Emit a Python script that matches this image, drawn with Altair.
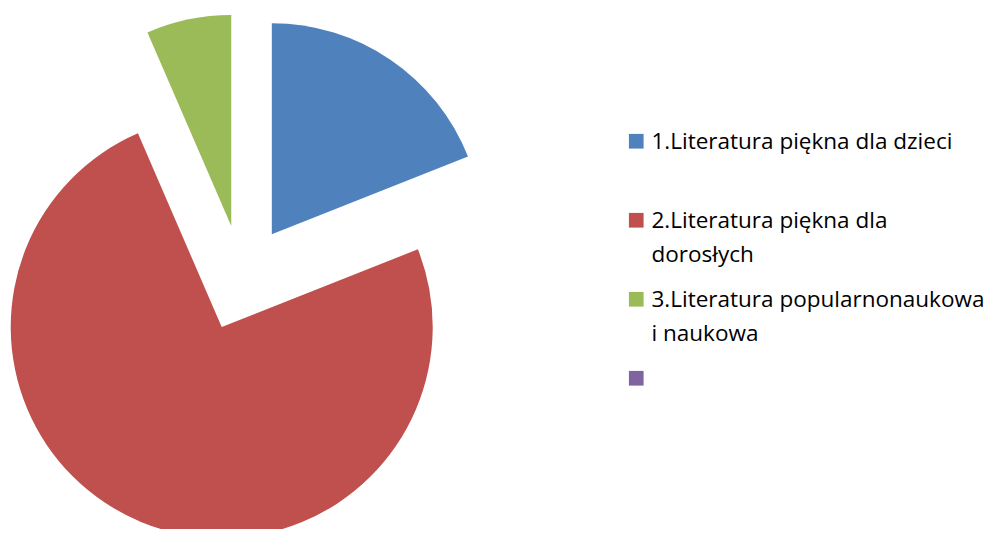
import altair as alt
import pandas as pd

categories = [
    "1.Literatura piękna dla dzieci",
    "2.Literatura piękna dla\ndorosłych",
    "3.Literatura popularnonaukowa\ni naukowa",
    " ",
]
values = [19.0, 74.5, 6.5, 0.0]
colors = ["#4F81BD", "#C0504D", "#9BBB59", "#8064A2"]

df = pd.DataFrame({"cat": categories, "value": values})

CX, CY, EXPLODE, R = 234, 270, 53, 211

base = alt.Chart(df).transform_joinaggregate(
    total="sum(value)"
).transform_window(
    cum="sum(value)", frame=[None, 0]
).transform_calculate(
    t1="2*PI*datum.cum/datum.total",
    t0="2*PI*(datum.cum-datum.value)/datum.total",
).transform_calculate(
    mid="(datum.t0+datum.t1)/2"
).transform_calculate(
    cx=f"{CX}+{EXPLODE}*sin(datum.mid)",
    cy=f"{CY}-{EXPLODE}*cos(datum.mid)",
)

chart = base.mark_arc(outerRadius=R, innerRadius=0).encode(
    theta=alt.Theta("t0:Q", scale=None),
    theta2="t1:Q",
    x=alt.X("cx:Q", scale=None),
    y=alt.Y("cy:Q", scale=None),
    color=alt.Color(
        "cat:N",
        scale=alt.Scale(domain=categories, range=colors),
        legend=alt.Legend(
            title=None,
            orient="none",
            legendX=617,
            legendY=122,
            symbolType="square",
            symbolSize=216,
            symbolStrokeWidth=0,
            labelFont="Open Sans",
            labelFontSize=22.5,
            labelColor="black",
            labelLimit=500,
            labelBaseline="alphabetic",
            labelExpr="split(datum.label, '\\n')",
            gridAlign="all",
            rowPadding=21,
            labelOffset=4,
        ),
    ),
).properties(
    width=981, height=521, padding=0, autosize=alt.AutoSizeParams(type="none")
).configure(
    view={"stroke": None},
    style={"guide-label": {"lineHeight": 34, "dy": 8}},
)

chart.save("out.html", embed_options={"renderer": "svg", "actions": False})
